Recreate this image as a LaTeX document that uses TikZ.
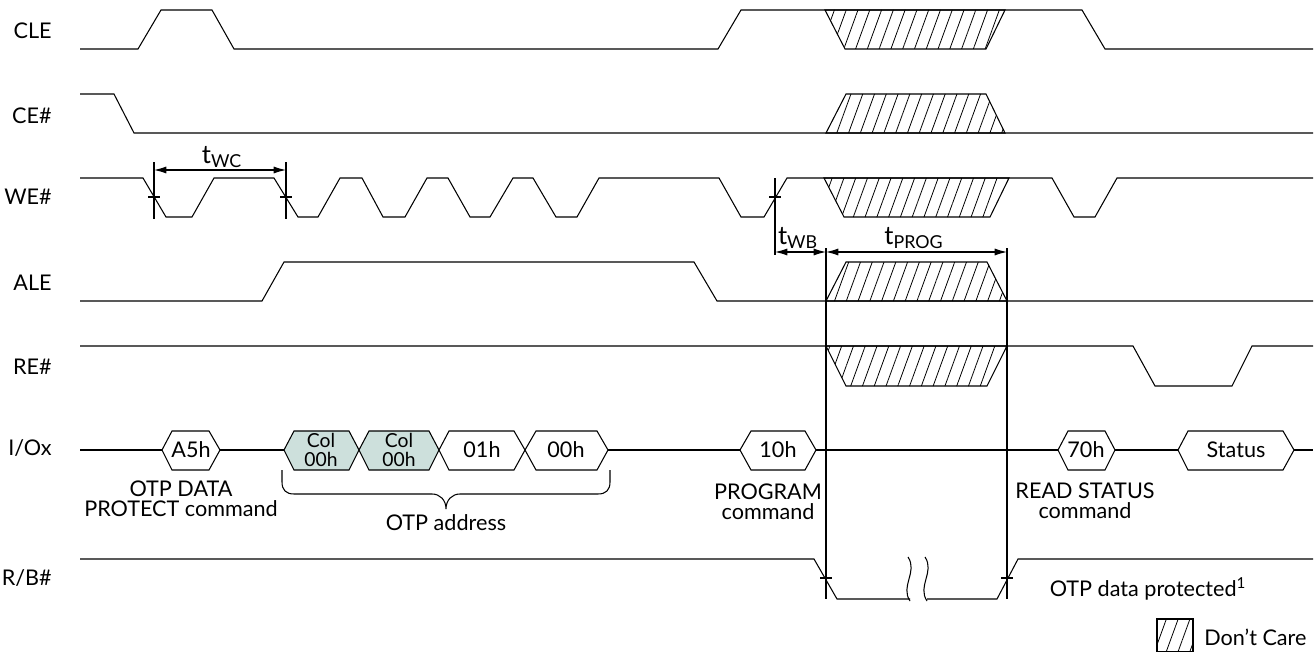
\documentclass[tikz,border=0pt]{standalone}
\usepackage{fontspec}
\setmainfont{Lato}
\usepackage{xcolor}
\definecolor{addrteal}{RGB}{205,224,220}
\usetikzlibrary{arrows.meta,patterns.meta,positioning}
\tikzset{
  wave/.style={line width=0.6pt},
  dontcare/.style={wave, pattern={Lines[angle=70,distance=6.3pt,line width=0.45pt]}},
  busbox/.style={wave, fill=white},
  addrbox/.style={wave, fill=addrteal},
  txt/.style={font=\fontsize{12.3}{11.6}\selectfont, inner sep=0pt, align=center},
  addrtxt/.style={txt, font=\fontsize{11}{10.8}\selectfont},
  signame/.style={txt, anchor=base east},
  tlab/.style={font=\fontsize{14.5}{14.5}\selectfont, inner sep=0pt},
  dimline/.style={line width=0.6pt, {Latex[length=7pt,width=4pt]}-{Latex[length=7pt,width=4pt]}},
}
\begin{document}
\begin{tikzpicture}[x=0.02cm, y=-0.02cm]
  \useasboundingbox (0,0) rectangle (1315,652);
  % Signal names
  \node[signame] (cle) at (52,39)  {CLE};
  \node[signame] (ce)  at (52,124) {CE\#};
  \node[signame] (we)  at (52,204) {WE\#};
  \node[signame] (ale) at (52,290) {ALE};
  \node[signame] (re)  at (52,374) {RE\#};
  \node[signame] (io)  at (52,455) {I/Ox};
  \node[signame] (rb)  at (52,585) {R/B\#};
  % CLE
  \draw[wave] (80,49) -- (138,49) -- (161,10) -- (212,10) -- (234,49) -- (718,49) -- (741,10) -- (1082,10) -- (1105,49) -- (1313,49);
  \draw[dontcare] (825,10) -- (845,49) -- (986,49) -- (1005,10) -- cycle;
  % CE#
  \draw[wave] (80,94) -- (114,94) -- (134,133) -- (1313,133);
  \draw[dontcare] (826,133) -- (846,94) -- (986,94) -- (1005,133) -- cycle;
  % WE#
  \draw[wave] (80,178) -- (143,178) -- (166,217) -- (192,217) -- (214,178) -- (274,178) -- (298,217) -- (318,217) -- (340,178)
    -- (362,178) -- (383,217) -- (405,217) -- (427,178) -- (448,178) -- (470,217) -- (490,217) -- (513,178)
    -- (533,178) -- (556,217) -- (577,217) -- (599,178) -- (719,178) -- (741,217) -- (764,217) -- (787,178)
    -- (1052,178) -- (1074,217) -- (1095,217) -- (1117,178) -- (1313,178);
  \draw[dontcare] (824,178) -- (844,217) -- (990,217) -- (1009,178) -- cycle;
  % ALE
  \draw[wave] (80,301) -- (262,301) -- (284,262) -- (694,262) -- (717,301) -- (1313,301);
  \draw[dontcare] (826,301) -- (846,262) -- (987,262) -- (1007,301) -- cycle;
  % RE#
  \draw[wave] (80,346) -- (1133,346) -- (1155,386) -- (1232,386) -- (1252,346) -- (1313,346);
  \draw[dontcare] (826,346) -- (846,386) -- (987,386) -- (1007,346) -- cycle;
  % I/Ox bus
  \draw[wave] (80,450) -- (1313,450);
  \draw[busbox] (162,450) -- (172,431) -- (209,431) -- (220,450) -- (209,470) -- (172,470) -- cycle;
  \draw[addrbox] (284,450) -- (294,431) -- (349,431) -- (359,450) -- (349,470) -- (294,470) -- cycle;
  \draw[addrbox] (359,450) -- (369,431) -- (429,431) -- (439,450) -- (429,470) -- (369,470) -- cycle;
  \draw[busbox] (439,450) -- (449,431) -- (514,431) -- (525,450) -- (514,470) -- (449,470) -- cycle;
  \draw[busbox] (525,450) -- (536,431) -- (597,431) -- (608,450) -- (597,470) -- (536,470) -- cycle;
  \draw[busbox] (740,450) -- (751,431) -- (805,431) -- (816,450) -- (805,470) -- (751,470) -- cycle;
  \draw[busbox] (1058,450) -- (1068,431) -- (1105,431) -- (1115,450) -- (1105,470) -- (1068,470) -- cycle;
  \draw[busbox] (1178,450) -- (1188,431) -- (1283,431) -- (1294,450) -- (1283,470) -- (1188,470) -- cycle;
  \node[txt] (a5)   at (191,450)  {A5h};
  \node[addrtxt] (col1) at (321,450)  {Col\\00h};
  \node[addrtxt] (col2) at (399,450)  {Col\\00h};
  \node[txt] (row1) at (482,450)  {01h};
  \node[txt] (row2) at (566,450)  {00h};
  \node[txt] (prg)  at (778,450)  {10h};
  \node[txt] (rst)  at (1086,450) {70h};
  \node[txt] (stat) at (1236,450) {Status};
  % Bus notes
  \node[txt] (protcmd) at (181,499) {OTP DATA\\PROTECT command};
  \draw[wave] (282,470) -- (282,482) .. controls (282,490) and (286,494) .. (294,494) -- (432,494)
    .. controls (440,494) and (446,500) .. (446,509) .. controls (446,500) and (452,494) .. (460,494)
    -- (598,494) .. controls (606,494) and (610,490) .. (610,482) -- (610,470);
  \node[txt] (otpaddr) at (446,523) {OTP address};
  \node[txt] (progcmd) at (768,502) {PROGRAM\\command};
  \node[txt] (readcmd) at (1085,501) {READ STATUS\\command};
  % R/B#
  \draw[wave] (80,559) -- (814,559) -- (837,599) -- (910,599);
  \draw[wave] (927,599) -- (997,599) -- (1018,559) -- (1313,559);
  \draw[wave] (908,557) .. controls (918,572) and (900,586) .. (910,601);
  \draw[wave] (925,557) .. controls (935,572) and (917,586) .. (927,601);
  \node[txt] (otpprot) at (1148,589) {OTP data protected\textsuperscript{1}};
  % Timing marks
  \coordinate (wc1) at (154,170);
  \coordinate (wc2) at (286,170);
  \coordinate (wb1) at (775,252);
  \coordinate (wb2) at (826,252);
  \coordinate (pg2) at (1007,252);
  \draw[wave] (154,162) -- (154,219);
  \draw[wave] (286,162) -- (286,219);
  \draw[wave] (775,178) -- (775,255);
  \draw[wave] (826,248) -- (826,599);
  \draw[wave] (1007,248) -- (1007,599);
  \draw[wave] (148,197) -- (160,197);
  \draw[wave] (280,197) -- (292,197);
  \draw[wave] (769,197) -- (781,197);
  \draw[wave] (820,578) -- (832,578);
  \draw[wave] (1001,578) -- (1013,578);
  \draw[dimline] (wc1) -- (wc2);
  \draw[dimline] (wb1) -- (wb2);
  \draw[dimline] (wb2) -- (pg2);
  \node[tlab] (twc)   at (222,157) {t\textsubscript{WC}};
  \node[tlab] (twb)   at (798,238) {t\textsubscript{WB}};
  \node[tlab] (tprog) at (914,238) {t\textsubscript{PROG}};
  % Legend
  \draw[dontcare] (1157,619) rectangle (1193,651.5);
  \node[txt, anchor=west] (dc) at (1204,637) {Don't Care};
\end{tikzpicture}
\end{document}
